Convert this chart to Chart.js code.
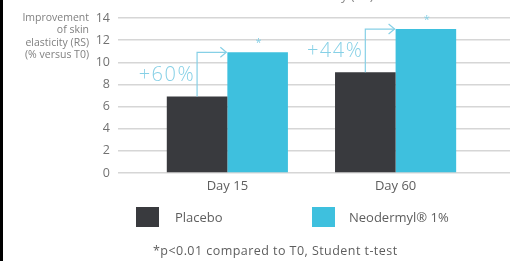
<!DOCTYPE html>
<html><head><meta charset="utf-8">
<script src="https://cdn.jsdelivr.net/npm/chart.js@4"></script>
<style>
html,body{margin:0;padding:0;background:#fff;overflow:hidden}
#wrap{position:relative;width:520px;height:261px;font-family:"Open Sans",sans-serif;color:#555;overflow:hidden}
#strip{position:absolute;left:0;top:0;width:3px;height:261px;background:#000}
canvas{position:absolute;left:0;top:0}
.box{position:absolute;width:23px;height:20px}
.lt{position:absolute;font-size:13px;line-height:20px;color:#5e5e5e;white-space:nowrap}
#foot{position:absolute;left:153px;top:242px;font-size:12.5px;letter-spacing:0.45px;line-height:18px;color:#5e5e5e;white-space:nowrap}
#ttl{position:absolute;left:250px;top:-13px;width:140px;text-align:center;font-size:13px;line-height:16px;color:#8a8a8a;white-space:nowrap}
</style></head><body>
<div id="wrap">
<canvas id="c" width="520" height="261"></canvas>
<div id="strip"></div>
<div id="ttl">Skin elasticity (RS)</div>
<div id="legend"></div>
<div id="foot"></div>
</div>
<script>
// ---- data ----
const categories = ['Day 15', 'Day 60'];
const placebo = [6.9, 9.1];
const neodermyl = [10.9, 13.0];
const seriesNames = ['Placebo', 'Neodermyl® 1%'];
const gains = ['+60%', '+44%'];
const yTicks = [0, 2, 4, 6, 8, 10, 12, 14];
const yTitle = ['Improvement', 'of skin', 'elasticity (RS)', '(% versus T0)'];
const footnote = '*p<0.01 compared to T0, Student t-test';

const colors = ['#393a3e', '#3ec0de'];
const annColor = '#86d0e6';

// legend + footnote (HTML)
const lg = document.getElementById('legend');
const lgPos = [[136, 175], [312, 349]];
seriesNames.forEach((n, i) => {
  const b = document.createElement('div'); b.className = 'box';
  b.style.left = lgPos[i][0] + 'px'; b.style.top = '207px'; b.style.background = colors[i];
  const t = document.createElement('div'); t.className = 'lt';
  t.style.left = lgPos[i][1] + 'px'; t.style.top = '207px'; t.textContent = n;
  lg.appendChild(b); lg.appendChild(t);
});
document.getElementById('foot').textContent = footnote;

const annot = {
  id: 'annot',
  afterDatasetsDraw(chart) {
    const ctx = chart.ctx;
    const m0 = chart.getDatasetMeta(0), m1 = chart.getDatasetMeta(1);
    ctx.save();
    ctx.strokeStyle = annColor; ctx.fillStyle = annColor; ctx.lineWidth = 1.2;
    m0.data.forEach((b0, i) => {
      const b1 = m1.data[i];
      const x0 = b0.x, y0 = b0.y, xl = b1.x - b1.width / 2, y1 = b1.y;
      ctx.beginPath(); ctx.moveTo(x0, y0); ctx.lineTo(x0, y1); ctx.lineTo(xl - 1, y1); ctx.stroke();
      ctx.beginPath(); ctx.moveTo(xl - 7, y1 - 5); ctx.lineTo(xl - 1, y1); ctx.lineTo(xl - 7, y1 + 5); ctx.stroke();
      ctx.font = '300 20px "Open Sans"'; ctx.textAlign = 'right'; ctx.textBaseline = 'middle';
      ctx.letterSpacing = '1.5px';
      ctx.fillText(gains[i], x0 - 2, (y0 + y1) / 2 + 1);
      ctx.letterSpacing = '0px';
      ctx.font = '11px "Open Sans"'; ctx.textAlign = 'center';
      ctx.fillText('*', b1.x + 1, y1 - 9);
    });
    ctx.fillStyle = '#808080'; ctx.font = '10.5px "Open Sans"';
    ctx.textAlign = 'right'; ctx.textBaseline = 'middle';
    yTitle.forEach((l, i) => ctx.fillText(l, 89, 18 + i * 12.5));
    ctx.restore();
  }
};

new Chart(document.getElementById('c'), {
  type: 'bar',
  data: {
    datasets: [0, 1].map(d => ({
      label: seriesNames[d],
      data: (d === 0 ? placebo : neodermyl).map((v, i) => ({ x: i + 1, y: v })),
      backgroundColor: colors[d],
      borderWidth: 0,
      barPercentage: 1,
      categoryPercentage: 0.72
    }))
  },
  options: {
    responsive: false,
    animation: false,
    layout: { padding: { left: 0, right: 10, top: 18, bottom: 0 } },
    plugins: { legend: { display: false }, tooltip: { enabled: false } },
    scales: {
      x: {
        type: 'linear', min: 0.35, max: 2.68, offset: false, bounds: 'data',
        afterBuildTicks: s => { s.ticks = categories.map((c, i) => ({ value: i + 1 })); },
        afterFit: s => { s.height = 88; },
        grid: { display: false, drawTicks: false, offset: false },
        border: { display: false },
        ticks: { padding: 5, color: '#5e5e5e', font: { family: 'Open Sans', size: 13 },
          callback: v => categories[v - 1] }
      },
      y: {
        min: 0, max: 14,
        afterBuildTicks: s => { s.ticks = yTicks.map(v => ({ value: v })); },
        afterFit: s => { s.width = 118; },
        grid: { color: '#d6d6d6', lineWidth: 1.5, drawTicks: false },
        border: { display: false },
        ticks: { padding: 8, color: '#727272', font: { family: 'Open Sans', size: 12.5 } }
      }
    }
  },
  plugins: [annot]
});
</script>
</body></html>
